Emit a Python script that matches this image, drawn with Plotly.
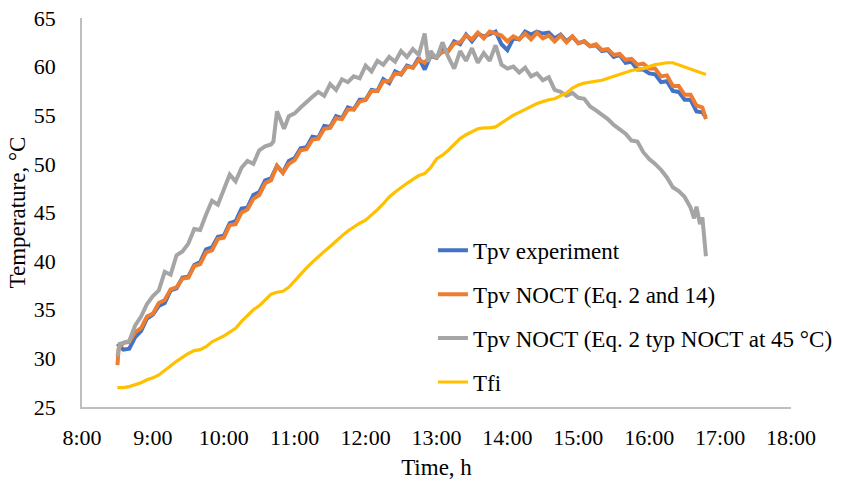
import plotly.graph_objects as go

# ---- data ----
grid_times = [
    "8:30", "8:35", "8:40", "8:45", "8:50", "8:55", "9:00", "9:05", "9:10", "9:15",
    "9:20", "9:25", "9:30", "9:35", "9:40", "9:45", "9:50", "9:55", "10:00", "10:05",
    "10:10", "10:15", "10:20", "10:25", "10:30", "10:35", "10:40", "10:45", "10:50", "10:55",
    "11:00", "11:05", "11:10", "11:15", "11:20", "11:25", "11:30", "11:35", "11:40", "11:45",
    "11:50", "11:55", "12:00", "12:05", "12:10", "12:15", "12:20", "12:25", "12:30", "12:35",
    "12:40", "12:45", "12:50", "12:55", "13:00", "13:05", "13:10", "13:15", "13:20", "13:25",
    "13:30", "13:35", "13:40", "13:45", "13:50", "13:55", "14:00", "14:05", "14:10", "14:15",
    "14:20", "14:25", "14:30", "14:35", "14:40", "14:45", "14:50", "14:55", "15:00", "15:05",
    "15:10", "15:15", "15:20", "15:25", "15:30", "15:35", "15:40", "15:45", "15:50", "15:55",
    "16:00", "16:05", "16:10", "16:15", "16:20", "16:25", "16:30", "16:35", "16:40", "16:45",
    "16:48",
]

tpv_experiment = [
    31.5, 30.9, 31.0, 32.2, 32.8, 34.1, 34.5, 35.4, 35.7, 37.0,
    37.2, 38.3, 38.4, 39.6, 39.9, 41.2, 41.4, 42.5, 42.6, 43.9,
    44.1, 45.4, 45.5, 46.8, 47.1, 48.3, 48.5, 49.8, 49.1, 50.3,
    50.6, 51.6, 51.7, 52.8, 52.7, 53.9, 53.8, 54.9, 54.7, 55.8,
    55.6, 56.6, 56.6, 57.6, 57.5, 58.7, 58.3, 59.5, 59.2, 60.1,
    59.9, 60.9, 59.7, 61.1, 60.9, 61.7, 61.6, 62.6, 62.3, 63.3,
    62.6, 63.4, 63.1, 63.3, 63.6, 62.3, 61.7, 62.9, 62.8, 63.6,
    63.3, 63.6, 63.4, 63.5, 62.9, 63.3, 62.6, 63.1, 62.4, 62.6,
    62.1, 62.2, 61.6, 61.7, 61.0, 61.2, 60.4, 60.5, 59.7, 59.7,
    59.3, 59.2, 58.4, 58.5, 57.5, 57.4, 56.6, 56.6, 55.4, 55.3,
    54.8,
]

noct_times = ["8:30", "8:31"] + grid_times[1:]
tpv_noct_eq14 = [
    29.3, 31.0, 31.6, 31.7, 32.7, 33.1, 34.3, 34.6, 35.7, 36.0, 37.1,
    37.3, 38.2, 38.3, 39.5, 39.7, 40.9, 41.1, 42.3, 42.4, 43.7,
    43.8, 45.0, 45.3, 46.4, 46.8, 48.0, 48.3, 49.8, 49.1, 50.0,
    50.4, 51.4, 51.5, 52.5, 52.6, 53.6, 53.7, 54.7, 54.6, 55.6,
    55.6, 56.4, 56.6, 57.5, 57.5, 58.5, 58.5, 59.3, 59.2, 60.0,
    59.9, 60.7, 60.4, 61.1, 61.0, 61.5, 61.6, 62.4, 62.5, 63.2,
    62.8, 63.5, 62.9, 63.6, 63.4, 63.2, 62.6, 63.1, 62.8, 63.4,
    62.8, 63.5, 62.9, 63.2, 62.6, 63.2, 62.5, 63.1, 62.4, 62.6,
    62.1, 62.3, 61.7, 61.8, 61.2, 61.3, 60.7, 60.8, 60.2, 60.3,
    59.8, 59.8, 59.0, 59.1, 58.0, 58.0, 57.1, 57.1, 56.0, 55.8,
    54.6,
]

typ_times = [
    "8:30", "8:32", "8:35", "8:40", "8:45", "8:50", "8:55", "9:00", "9:05", "9:10",
    "9:15", "9:20", "9:25", "9:30", "9:35", "9:40", "9:45", "9:50", "9:55", "10:00",
    "10:05", "10:10", "10:15", "10:20", "10:25", "10:30", "10:35", "10:40", "10:42", "10:45",
    "10:48", "10:51", "10:55", "11:00", "11:05", "11:10", "11:15", "11:20", "11:25", "11:30",
    "11:35", "11:40", "11:45", "11:50", "11:55", "12:00", "12:05", "12:10", "12:15", "12:20",
    "12:25", "12:30", "12:35", "12:40", "12:45", "12:50", "12:53", "12:55", "13:00", "13:05",
    "13:10", "13:15", "13:20", "13:25", "13:30", "13:35", "13:40", "13:45", "13:50", "13:55",
    "14:00", "14:05", "14:10", "14:15", "14:20", "14:25", "14:30", "14:35", "14:40", "14:45",
    "14:50", "14:55", "15:00", "15:05", "15:10", "15:15", "15:20", "15:25", "15:30", "15:35",
    "15:40", "15:45", "15:50", "15:55", "16:00", "16:05", "16:10", "16:15", "16:20", "16:25",
    "16:30", "16:35", "16:38", "16:40", "16:43", "16:45", "16:48",
]
tpv_noct_typ45 = [
    30.2, 31.5, 31.6, 31.8, 33.4, 34.3, 35.6, 36.4, 37.0, 38.9,
    38.6, 40.6, 41.0, 41.8, 43.3, 43.2, 44.8, 46.2, 45.8, 47.3,
    48.9, 48.2, 49.6, 50.3, 50.0, 51.4, 51.8, 52.0, 52.3, 55.4,
    54.6, 53.6, 54.9, 55.2, 55.8, 56.4, 56.9, 57.4, 57.0, 58.2,
    57.6, 58.7, 58.4, 59.0, 58.8, 60.1, 59.5, 60.6, 60.2, 61.0,
    60.5, 61.6, 61.0, 61.8, 61.2, 63.4, 60.5, 61.6, 60.8, 62.5,
    61.0, 59.8, 61.6, 60.6, 61.9, 60.4, 61.4, 60.6, 62.2, 60.2,
    59.8, 60.0, 59.4, 59.9, 59.0, 59.3, 58.6, 58.9, 57.6, 57.4,
    57.0, 57.3, 56.8, 56.7, 55.9, 55.5, 55.1, 54.6, 54.0, 53.6,
    53.1, 52.4, 52.3, 51.2, 50.5, 50.0, 49.4, 48.6, 47.6, 47.2,
    46.6, 45.5, 44.4, 45.6, 43.8, 44.5, 40.5,
]

tfi = [
    27.0, 27.0, 27.1, 27.3, 27.5, 27.8, 28.0, 28.3, 28.8, 29.3,
    29.7, 30.1, 30.5, 30.8, 30.9, 31.2, 31.7, 32.0, 32.3, 32.7,
    33.1, 33.8, 34.4, 35.0, 35.4, 36.0, 36.6, 36.8, 36.9, 37.3,
    38.0, 38.7, 39.3, 39.9, 40.5, 41.0, 41.5, 42.1, 42.6, 43.1,
    43.5, 43.9, 44.2, 44.7, 45.3, 45.9, 46.6, 47.1, 47.6, 48.0,
    48.4, 48.8, 49.0, 49.6, 50.5, 50.9, 51.4, 52.0, 52.6, 53.0,
    53.3, 53.6, 53.7, 53.7, 53.8, 54.2, 54.6, 55.0, 55.3, 55.6,
    55.9, 56.2, 56.4, 56.6, 56.7, 57.0, 57.3, 57.8, 58.1, 58.3,
    58.4, 58.5, 58.6, 58.8, 59.0, 59.2, 59.4, 59.6, 59.7, 59.8,
    60.0, 60.2, 60.3, 60.4, 60.4, 60.2, 60.0, 59.8, 59.6, 59.4,
    59.2,
]

series_names = [
    "Tpv experiment",
    "Tpv NOCT (Eq. 2 and 14)",
    "Tpv NOCT (Eq. 2 typ NOCT at 45 °C)",
    "Tfi",
]
x_range = ["8:00", "18:00"]
y_range = [25, 65]


def to_dt(times):
    return ["2020-01-01 " + (t if len(t) == 5 else "0" + t) for t in times]


FONT = "Liberation Serif, Times New Roman, serif"
colors = ["#4472C4", "#ED7D31", "#A5A5A5", "#FFC000"]
widths = [4, 4, 4, 3.2]

series = [
    (grid_times, tpv_experiment),
    (noct_times, tpv_noct_eq14),
    (typ_times, tpv_noct_typ45),
    (grid_times, tfi),
]

fig = go.Figure()
for i, (name, (tt, vals)) in enumerate(zip(series_names, series)):
    fig.add_trace(go.Scatter(
        x=to_dt(tt), y=vals, mode="lines", name=name,
        legendgroup=f"g{i}",
        line=dict(color=colors[i], width=widths[i]),
    ))

fig.update_layout(
    width=850, height=482,
    margin=dict(l=82, r=28, t=18, b=75),
    paper_bgcolor="white", plot_bgcolor="white",
    font=dict(family=FONT, size=22, color="#000000"),
    showlegend=True,
    legend=dict(
        x=0.495, y=0.458, xanchor="left", yanchor="top",
        bgcolor="rgba(255,255,255,0)",
        font=dict(family=FONT, size=23, color="#000000"),
        tracegroupgap=11,
        traceorder="grouped",
    ),
    xaxis=dict(
        type="date",
        range=to_dt(x_range),
        dtick=3600000,
        tickformat="%-H:%M",
        showgrid=False, zeroline=False,
        showline=True, linecolor="#BFBFBF", linewidth=1.5,
        ticks="", ticklabelstandoff=10,
        ticklabeloverflow="allow",
        tickfont=dict(family=FONT, size=22),
        automargin=False,
        title=dict(text="Time, h", font=dict(family=FONT, size=23), standoff=10),
    ),
    yaxis=dict(
        range=y_range, dtick=5,
        showgrid=False, zeroline=False,
        showline=True, linecolor="#BFBFBF", linewidth=1.5,
        ticks="", ticklabelstandoff=20,
        ticklabeloverflow="allow",
        tickfont=dict(family=FONT, size=22),
        automargin=False,
        title=dict(text="Temperature, °C", font=dict(family=FONT, size=23), standoff=2),
    ),
)

# remove the browser's default 8 px body margin so the figure sits at the page origin
fig.write_html(
    "out.html",
    config={"displayModeBar": False},
    post_script="document.body.style.margin='0';",
)
